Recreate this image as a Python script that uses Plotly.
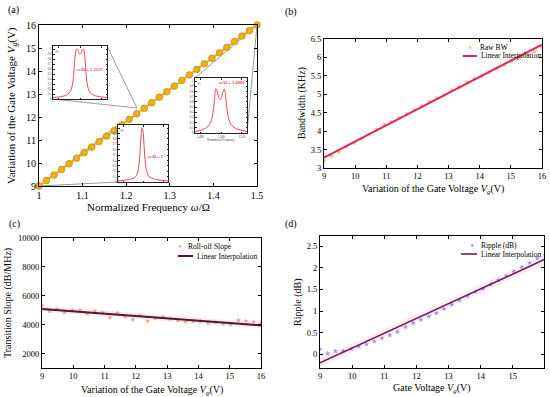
import plotly.graph_objects as go

W, H = 550, 397
def PX(x): return x / W
def PY(y): return 1 - y / H

FONT = "Liberation Serif"

# ---------------- data ----------------
# (a) normalized frequency vs gate voltage
freq_a = [1.0, 1.0172, 1.0345, 1.0517, 1.069, 1.0862, 1.1034, 1.1207, 1.1379, 1.1552,
          1.1724, 1.1897, 1.2069, 1.2241, 1.2414, 1.2586, 1.2759, 1.2931, 1.3103, 1.3276,
          1.3448, 1.3621, 1.3793, 1.3966, 1.4138, 1.431, 1.4483, 1.4655, 1.4828, 1.5]
volt_a = [9.0, 9.24, 9.48, 9.72, 9.97, 10.21, 10.45, 10.69, 10.93, 11.17,
          11.41, 11.66, 11.9, 12.14, 12.38, 12.62, 12.86, 13.1, 13.34, 13.59,
          13.83, 14.07, 14.31, 14.55, 14.79, 15.03, 15.28, 15.52, 15.76, 16.0]

# common gate voltages for (b), (c), (d)
vg = [9.0, 9.24, 9.48, 9.72, 9.97, 10.21, 10.45, 10.69, 10.93, 11.17,
      11.41, 11.66, 11.9, 12.14, 12.38, 12.62, 12.86, 13.1, 13.34, 13.59,
      13.83, 14.07, 14.31, 14.55, 14.79, 15.03, 15.28, 15.52, 15.76, 16.0]

# (b) bandwidth
bw_raw = [3.2, 3.33, 3.43, 3.58, 3.68, 3.8, 3.92, 4.05, 4.18, 4.25,
          4.36, 4.47, 4.57, 4.68, 4.8, 4.9, 4.98, 5.1, 5.2, 5.33,
          5.42, 5.5, 5.6, 5.7, 5.8, 5.9, 6.0, 6.08, 6.17, 6.28]
bw_fit_x = [9, 16]
bw_fit_y = [3.28, 6.35]

# (c) transition slope
slope_raw = [5350, 4950, 5100, 4850, 5000, 5000, 4750, 4950, 4850, 4500,
             4800, 4550, 4350, 4650, 4250, 4450, 4550, 4400, 4300, 4200,
             4250, 4200, 4100, 4150, 4050, 4000, 4300, 4250, 4200, 4150]
slope_fit_x = [9, 16]
slope_fit_y = [5080, 3950]
slope_band_lo = [4880, 3760]
slope_band_hi = [5300, 4150]

# (d) ripple
ripple_raw = [0.12, 0.02, 0.07, 0.08, 0.12, 0.18, 0.23, 0.3, 0.37, 0.44,
              0.52, 0.63, 0.72, 0.8, 0.88, 0.95, 1.05, 1.15, 1.25, 1.35,
              1.45, 1.52, 1.62, 1.72, 1.82, 1.92, 2.02, 2.12, 2.22, 2.3]
ripple_fit_x = [9, 16]
ripple_fit_y = [-0.2, 2.2]
ripple_band_lo = [-0.3, 2.1]
ripple_band_hi = [-0.1, 2.3]

# insets: transmission spectra (normalized axes)
ins1_x = [0, 0.1, 0.2, 0.25, 0.3, 0.33, 0.36, 0.38, 0.4, 0.42, 0.44, 0.46, 0.48, 0.5,
          0.52, 0.54, 0.56, 0.58, 0.6, 0.62, 0.64, 0.67, 0.7, 0.75, 0.8, 0.9, 1.0]
ins1_y = [0.03, 0.04, 0.06, 0.08, 0.12, 0.17, 0.28, 0.45, 0.75, 0.95, 1.0, 0.97, 0.92, 0.9,
          0.92, 0.97, 1.0, 0.93, 0.7, 0.42, 0.26, 0.16, 0.11, 0.08, 0.06, 0.04, 0.03]
ins2_x = [0, 0.1, 0.2, 0.3, 0.35, 0.38, 0.4, 0.42, 0.44, 0.46, 0.48, 0.5, 0.52, 0.54,
          0.56, 0.58, 0.6, 0.62, 0.65, 0.7, 0.8, 0.9, 1.0]
ins2_y = [0.02, 0.03, 0.04, 0.07, 0.1, 0.14, 0.2, 0.32, 0.55, 0.85, 1.0, 0.95, 0.7, 0.42,
          0.26, 0.18, 0.13, 0.1, 0.08, 0.06, 0.04, 0.03, 0.02]
ins3_x = [0, 0.1, 0.2, 0.25, 0.3, 0.33, 0.36, 0.38, 0.4, 0.42, 0.44, 0.46, 0.48, 0.5,
          0.52, 0.54, 0.56, 0.58, 0.6, 0.62, 0.65, 0.7, 0.75, 0.8, 0.9, 1.0]
ins3_y = [0.03, 0.05, 0.09, 0.13, 0.2, 0.3, 0.5, 0.7, 0.85, 0.83, 0.75, 0.68, 0.65, 0.66,
          0.72, 0.8, 0.85, 0.78, 0.6, 0.42, 0.27, 0.16, 0.11, 0.08, 0.05, 0.03]

# legend labels
leg_b = ["Raw BW", "Linear Interpolation"]
leg_c = ["Roll-off Slope", "Linear Interpolation"]
leg_d = ["Ripple (dB)", "Linear Interpolation"]

# ---------------- figure ----------------
fig = go.Figure()

ORANGE = "#EDB120"
RED = "#E0245E"
MAROON = "#4A1838"
PURPLE_LINE = "#6D2150"
INSET_RED = "#EF4655"
C_B = "#F5B461"
C_C = "#F2A27A"
C_D = "#9E8CEB"

# (a)
fig.add_trace(go.Scatter(x=freq_a, y=volt_a, mode="lines+markers", xaxis="x", yaxis="y",
                         line=dict(color=ORANGE, width=2.2),
                         marker=dict(size=6.5, color=ORANGE, line=dict(color="#D39512", width=1)),
                         showlegend=False, cliponaxis=False))

# (b)
fig.add_trace(go.Scatter(x=vg, y=bw_raw, mode="markers", xaxis="x2", yaxis="y2", name=leg_b[0],
                         marker=dict(symbol="star", size=4, color=C_B), showlegend=False))
fig.add_trace(go.Scatter(x=bw_fit_x, y=bw_fit_y, mode="lines", xaxis="x2", yaxis="y2",
                         name=leg_b[1], line=dict(color=RED, width=2), showlegend=False))

# (c)
fig.add_trace(go.Scatter(x=slope_fit_x, y=slope_band_lo, mode="lines", xaxis="x3", yaxis="y3",
                         line=dict(width=0), showlegend=False, hoverinfo="skip"))
fig.add_trace(go.Scatter(x=slope_fit_x, y=slope_band_hi, mode="lines", xaxis="x3", yaxis="y3",
                         line=dict(width=0), fill="tonexty", fillcolor="rgba(255,190,215,0.35)",
                         showlegend=False, hoverinfo="skip"))
fig.add_trace(go.Scatter(x=vg, y=slope_raw, mode="markers", xaxis="x3", yaxis="y3",
                         name=leg_c[0], marker=dict(symbol="star", size=4, color=C_C),
                         showlegend=False))
fig.add_trace(go.Scatter(x=slope_fit_x, y=slope_fit_y, mode="lines", xaxis="x3", yaxis="y3",
                         name=leg_c[1], line=dict(color=MAROON, width=2), showlegend=False))

# (d)
fig.add_trace(go.Scatter(x=ripple_fit_x, y=ripple_band_lo, mode="lines", xaxis="x4", yaxis="y4",
                         line=dict(width=0), showlegend=False, hoverinfo="skip"))
fig.add_trace(go.Scatter(x=ripple_fit_x, y=ripple_band_hi, mode="lines", xaxis="x4", yaxis="y4",
                         line=dict(width=0), fill="tonexty", fillcolor="rgba(255,190,215,0.3)",
                         showlegend=False, hoverinfo="skip"))
fig.add_trace(go.Scatter(x=vg, y=ripple_raw, mode="markers", xaxis="x4", yaxis="y4",
                         name=leg_d[0], marker=dict(symbol="star", size=4, color=C_D),
                         showlegend=False))
fig.add_trace(go.Scatter(x=ripple_fit_x, y=ripple_fit_y, mode="lines", xaxis="x4", yaxis="y4",
                         name=leg_d[1], line=dict(color=PURPLE_LINE, width=1.6),
                         showlegend=False))

# insets
for xs, ys, xa, ya in [(ins1_x, ins1_y, "x5", "y5"), (ins2_x, ins2_y, "x6", "y6"),
                       (ins3_x, ins3_y, "x7", "y7")]:
    fig.add_trace(go.Scatter(x=xs, y=ys, mode="lines", xaxis=xa, yaxis=ya,
                             line=dict(color=INSET_RED, width=1, shape="spline"),
                             showlegend=False))

def axis(domain, rng, anchor, size=8.5, **kw):
    d = dict(domain=domain, range=rng, anchor=anchor, showline=True, linecolor="black",
             linewidth=1, mirror="ticks", ticks="inside", ticklen=3, tickcolor="black",
             showgrid=False, zeroline=False, automargin=False,
             tickfont=dict(family=FONT, size=size, color="black"))
    d.update(kw)
    return d

A_X = [PX(39), PX(257)]; A_Y = [PY(186), PY(25)]
B_X = [PX(324), PX(542)]; B_Y = [PY(168), PY(39)]
C_X = [PX(42), PX(261)]; C_Y = [PY(368), PY(238)]
D_X = [PX(320), PX(544)]; D_Y = [PY(368), PY(236)]
I1 = (53, 46, 107, 99)
I2 = (118, 125, 168, 182)
I3 = (195, 78, 247, 133)

def inset_axes(box, xa, ya, xlabels=False):
    x0, y0, x1, y1 = box
    xd = dict(domain=[PX(x0), PX(x1)], range=[0, 1], anchor=ya, showline=True,
              linecolor="#222", linewidth=1, mirror="ticks", ticks="inside", ticklen=1.5,
              tickcolor="#222", showgrid=False, zeroline=False, tickvals=[0.1, 0.5, 0.9],
              showticklabels=xlabels, ticktext=["1.490", "1.500", "1.510"], automargin=False,
              tickfont=dict(family=FONT, size=3, color="#333"))
    yd = dict(domain=[PY(y1), PY(y0)], range=[0, 1.06], anchor=xa, showline=True,
              linecolor="#222", linewidth=1, mirror="ticks", ticks="inside", ticklen=1.5,
              tickcolor="#222", showgrid=False, zeroline=False, dtick=0.1, automargin=False,
              showticklabels=True, tickfont=dict(family=FONT, size=3, color="#333"))
    return xd, yd

x5, y5 = inset_axes(I1, "x5", "y5")
x6, y6 = inset_axes(I2, "x6", "y6")
x7, y7 = inset_axes(I3, "x7", "y7", xlabels=True)

fig.update_layout(
    width=W, height=H, margin=dict(l=0, r=0, t=0, b=0, autoexpand=False),
    paper_bgcolor="white", plot_bgcolor="white", showlegend=False,
    font=dict(family=FONT, color="black"),
    xaxis=axis(A_X, [1, 1.5], "y", size=10, dtick=0.1),
    yaxis=axis(A_Y, [9, 16], "x", size=10, dtick=1),
    xaxis2=axis(B_X, [9, 16], "y2", dtick=1),
    yaxis2=axis(B_Y, [3, 6.5], "x2", dtick=0.5),
    xaxis3=axis(C_X, [9, 16], "y3", dtick=1),
    yaxis3=axis(C_Y, [1000, 10000], "x3", tickvals=[2000, 4000, 6000, 8000, 10000],
                tickformat="d"),
    xaxis4=axis(D_X, [9, 15.97], "y4", dtick=1),
    yaxis4=axis(D_Y, [-0.32, 2.74], "x4", tickvals=[0, 0.5, 1, 1.5, 2, 2.5],
                ticktext=["0", "0.5", "1", "1.5", "2", "2.5"]),
    xaxis5=x5, yaxis5=y5, xaxis6=x6, yaxis6=y6, xaxis7=x7, yaxis7=y7,
)

# connector lines for insets (panel a)
GRAY = "#9a9a9a"
conn = [((107, 46), (137, 108)), ((53, 99), (137, 108)),
        ((118, 125), (39, 186)), ((118, 182), (39, 186)),
        ((195, 78), (257, 25)), ((247, 133), (257, 25))]
for (xa_, ya_), (xb_, yb_) in conn:
    fig.add_shape(type="line", xref="paper", yref="paper", x0=PX(xa_), y0=PY(ya_),
                  x1=PX(xb_), y1=PY(yb_), line=dict(color=GRAY, width=1), layer="below")

ann = []
def add_text(x, y, text, size=10, angle=0, color="black", xanchor="center", family=FONT):
    ann.append(dict(x=PX(x), y=PY(y), xref="paper", yref="paper", text=text, showarrow=False,
                    textangle=angle, xanchor=xanchor, yanchor="middle",
                    font=dict(family=family, size=size, color=color)))

# manual legends (marker glyph + line sample + labels)
def legend(mx, my, mcolor, tx0, lx0, lx1, ly, lcolor, labels, lw=2):
    add_text(mx, my, "★", 5, color=mcolor, family="DejaVu Sans")
    add_text(tx0, my, labels[0], 7.5, xanchor="left")
    fig.add_shape(type="line", xref="paper", yref="paper", x0=PX(lx0), x1=PX(lx1),
                  y0=PY(ly), y1=PY(ly), line=dict(color=lcolor, width=lw))
    add_text(lx1 + 2, ly, labels[1], 7.5, xanchor="left")

legend(470, 47, C_B, 478, 463, 477, 56, RED, leg_b)
legend(180, 246, C_C, 186, 178, 193, 256, MAROON, leg_c)
legend(472, 245, C_D, 479, 461, 477, 254, PURPLE_LINE, leg_d, lw=1.6)

VG = "<i>V<sub>g</sub></i>(V)"
# panel labels
add_text(13, 10, "(a)", 10)
add_text(291, 12, "(b)", 10)
add_text(14, 224, "(c)", 10)
add_text(291, 224, "(d)", 10)
# axis titles
add_text(148, 207, "Normalized Frequency <i>ω</i>/Ω", 11)
add_text(12, 106, "Variation of the Gate Voltage " + VG, 11, -90)
add_text(433, 189, "Variation of the Gate Voltage " + VG, 10)
add_text(302, 103, "Bandwidth (KHz)", 10, -90)
add_text(152, 390, "Variation of the Gate Voltage " + VG, 10)
add_text(8, 303, "Transition Slope (dB/MHz)", 10, -90)
add_text(432, 388, "Gate Voltage " + VG, 10)
add_text(298, 302, "Ripple (dB)", 10, -90)
# inset annotations
add_text(90, 70, "<b><i>ω</i>/Ω = 1.2237</b>", 4.5, color=INSET_RED)
add_text(156, 157, "<b><i>ω</i>/Ω = 1</b>", 4.5, color=INSET_RED)
add_text(232, 82, "<b><i>ω</i>/Ω = 1.4984</b>", 4.5, color=INSET_RED)
add_text(221, 140, "Normalized Frequency", 3, color="#333")
for bx in (I1, I2, I3):
    add_text(bx[0] + 4, bx[1] + 6, "|<i>t</i>|", 3.5, angle=-90, color="#333")
fig.update_layout(annotations=ann)

fig.write_html("out.html", config={"displayModeBar": False},
               post_script="document.body.style.margin='0';")
